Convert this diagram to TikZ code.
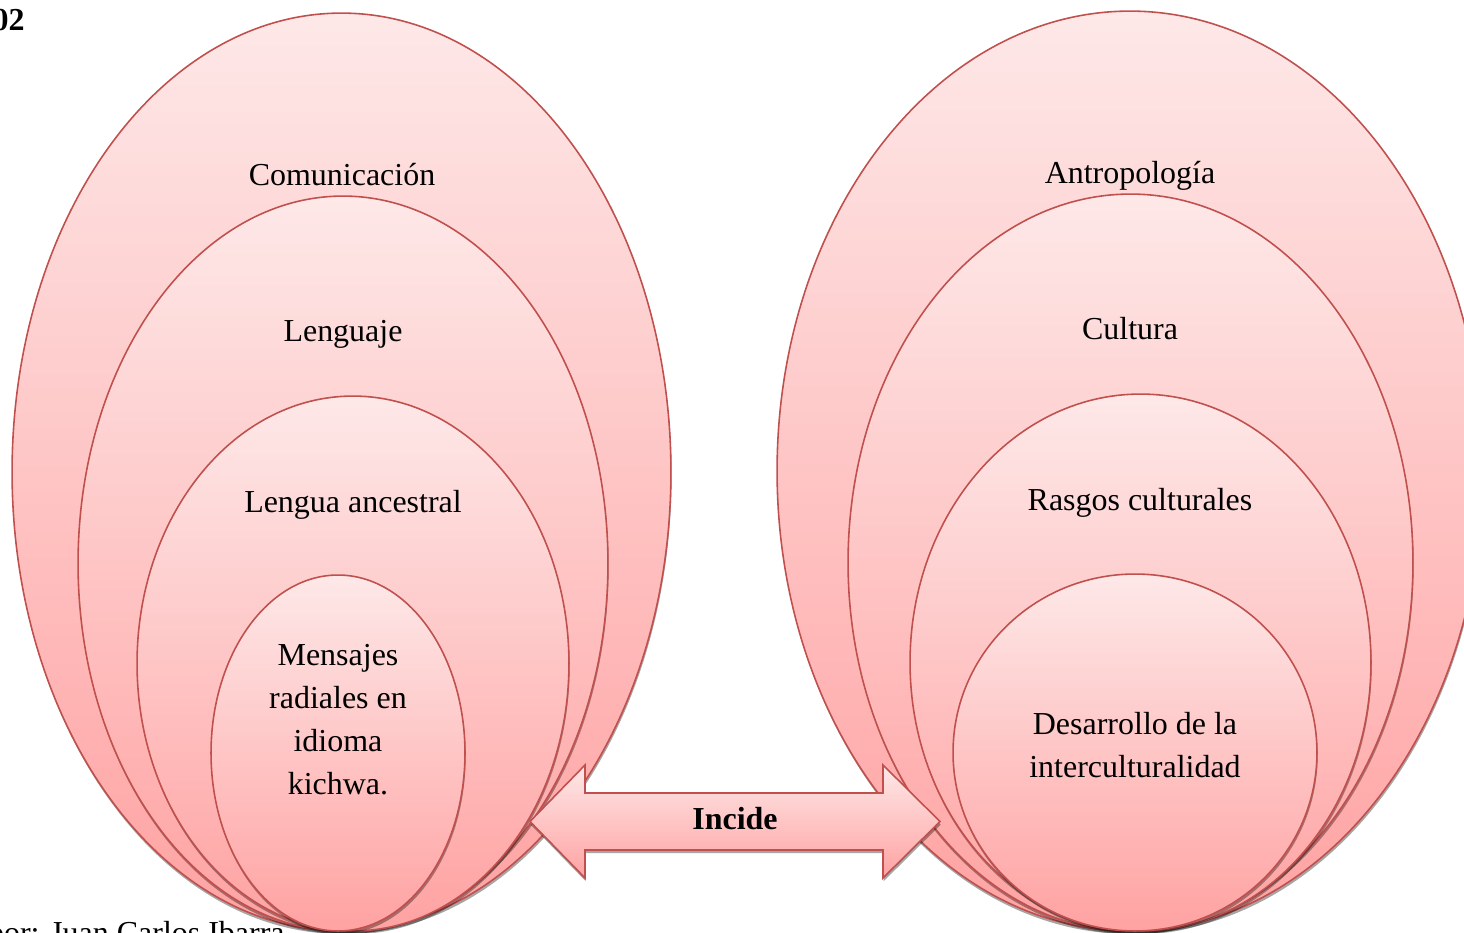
\documentclass[tikz,border=0pt]{standalone}
\usepackage{fontspec}
\setmainfont{Liberation Serif}
\usepackage{tikz}
\usetikzlibrary{shapes.geometric, shadows}
\definecolor{ringtop}{RGB}{254,232,232}
\definecolor{ringbot}{RGB}{255,162,162}
\definecolor{ringline}{RGB}{192,80,77}

\begin{document}
\begin{tikzpicture}[
    x=0.02cm, y=-0.02cm,
    ring/.style={ellipse, draw=ringline, line width=0.9pt, inner sep=0pt,
        top color=ringtop, bottom color=ringbot,
        drop shadow={shadow xshift=0.4pt, shadow yshift=-1.8pt, fill=black, opacity=0.35}},
    txt/.style={font=\fontsize{18.2}{24.5}\selectfont, align=center},
]
    \useasboundingbox (0,0) rectangle (1464,933);
    \clip (0,0) rectangle (1464,933);

    % Caption lines (cut by the page)
    \node[txt, font=\fontsize{18.2}{24.5}\selectfont\bfseries, anchor=base east, inner sep=0pt] (num) at (25,31) {02};
    \node[txt, anchor=base east, inner sep=0pt] (autor) at (285,943) {por: Juan Carlos Ibarra};

    % Left group
    \node[ring, minimum width=13.18cm, minimum height=18.36cm] (l1) at (341.5,472) {};
    \node[ring, minimum width=10.6cm, minimum height=14.7cm] (l2) at (343,563.5) {};
    \node[ring, minimum width=8.64cm, minimum height=10.7cm] (l3) at (353,663.5) {};
    \node[ring, minimum width=5.08cm, minimum height=7.12cm] (l4) at (338,753) {};
    \node[txt] (comunicacion) at (342,175) {Comunicación};
    \node[txt] (lenguaje) at (343,334) {Lenguaje};
    \node[txt] (lengua) at (353,505) {Lengua ancestral};
    \node[txt] (mensajes) at (338,720) {Mensajes\\radiales en\\idioma\\kichwa.};

    % Right group
    \node[ring, minimum width=14.12cm, minimum height=18.4cm] (r1) at (1130,471) {};
    \node[ring, minimum width=11.3cm, minimum height=14.74cm] (r2) at (1130.5,562.5) {};
    \node[ring, minimum width=9.22cm, minimum height=10.74cm] (r3) at (1140.5,662.5) {};
    \node[ring, minimum width=7.28cm, minimum height=7.14cm] (r4) at (1135,752.5) {};
    \node[txt] (antropologia) at (1130,176) {Antropología};
    \node[txt] (cultura) at (1130,329) {Cultura};
    \node[txt] (rasgos) at (1140,503) {Rasgos culturales};
    \node[txt] (desarrollo) at (1135,745) {Desarrollo de la\\interculturalidad};

    % Block arrow between the groups
    \draw[draw=ringline, line width=0.9pt, top color=ringtop, bottom color=ringbot,
        drop shadow={shadow xshift=0.4pt, shadow yshift=-1.8pt, fill=black, opacity=0.35}]
        (530,821.5) -- (585,765) -- (585,793) -- (883,793) -- (883,765) -- (940,821.5)
        -- (883,878) -- (883,850) -- (585,850) -- (585,878) -- cycle;
    \node[txt, font=\fontsize{18.2}{24.5}\selectfont\bfseries] (incide) at (735,819) {Incide};
\end{tikzpicture}
\end{document}
